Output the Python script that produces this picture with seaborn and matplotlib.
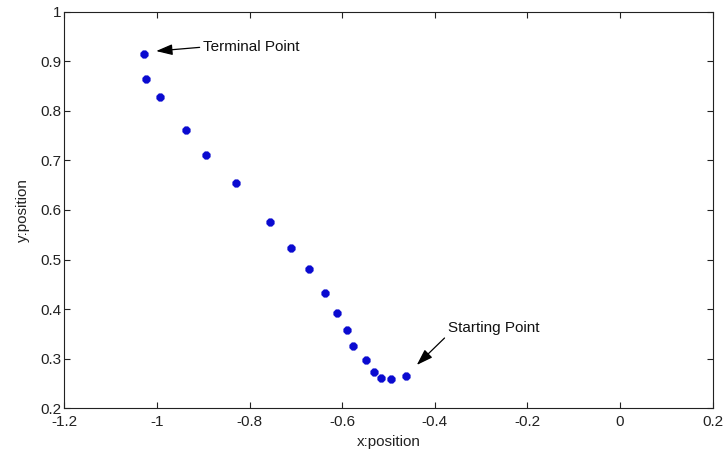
import numpy as np
import pandas as pd
import matplotlib
matplotlib.use('Agg')
import matplotlib.pyplot as plt
import seaborn as sns

# trajectory points
x_pos = [-1.028, -1.023, -0.994, -0.938, -0.895, -0.830, -0.756, -0.711, -0.672,
         -0.638, -0.611, -0.589, -0.576, -0.549, -0.532, -0.517, -0.494, -0.462]
y_pos = [0.915, 0.865, 0.828, 0.762, 0.711, 0.654, 0.576, 0.524, 0.481,
         0.432, 0.392, 0.357, 0.325, 0.298, 0.273, 0.260, 0.258, 0.265]

x_ticks = [-1.2, -1, -0.8, -0.6, -0.4, -0.2, 0, 0.2]
y_ticks = [0.2, 0.3, 0.4, 0.5, 0.6, 0.7, 0.8, 0.9, 1]

df = pd.DataFrame({'x': x_pos, 'y': y_pos})

sns.set_style('ticks')
plt.rcParams['font.family'] = ['Liberation Sans', 'DejaVu Sans']
plt.rcParams['xtick.direction'] = 'in'
plt.rcParams['ytick.direction'] = 'in'

fig = plt.figure(figsize=(7.27, 4.59), dpi=100)
ax = fig.add_axes([0.0887, 0.111, 0.8915, 0.863])

sns.scatterplot(data=df, x='x', y='y', ax=ax, marker='8', s=32,
                color='#0a0ad0', edgecolor='#0a0ad0', linewidth=0.6)

ax.set_xlim(-1.2, 0.2)
ax.set_ylim(0.2, 1)
ax.set_xticks(x_ticks)
ax.set_yticks(y_ticks)
ax.set_xticklabels(['-1.2', '-1', '-0.8', '-0.6', '-0.4', '-0.2', '0', '0.2'])
ax.set_yticklabels(['0.2', '0.3', '0.4', '0.5', '0.6', '0.7', '0.8', '0.9', '1'])
ax.tick_params(top=True, right=True, length=4, width=0.8, labelsize=11,
               colors='#222222', pad=2)
ax.tick_params(axis='x', pad=5)
for sp in ax.spines.values():
    sp.set_linewidth(0.8)
    sp.set_color('#222222')

ax.set_xlabel('x:position', fontsize=11, labelpad=4, color='#222222')
ax.set_ylabel('y:position', fontsize=11, labelpad=8, color='#222222')

arrow = dict(arrowstyle='-|>,head_length=0.9,head_width=0.3', color='black',
             lw=0.9, shrinkA=0, shrinkB=0)

ax.annotate('Terminal Point', xy=(-1.002, 0.921), xytext=(-0.901, 0.929),
            fontsize=11, va='center', ha='left', color='#111111',
            arrowprops=dict(arrow, relpos=(0, 0.5)))
ax.annotate('Starting Point', xy=(-0.439, 0.287), xytext=(-0.372, 0.362),
            fontsize=11, va='center', ha='left', color='#111111',
            arrowprops=dict(arrow, relpos=(0, 0)))

fig.savefig('out.png', dpi=100)
